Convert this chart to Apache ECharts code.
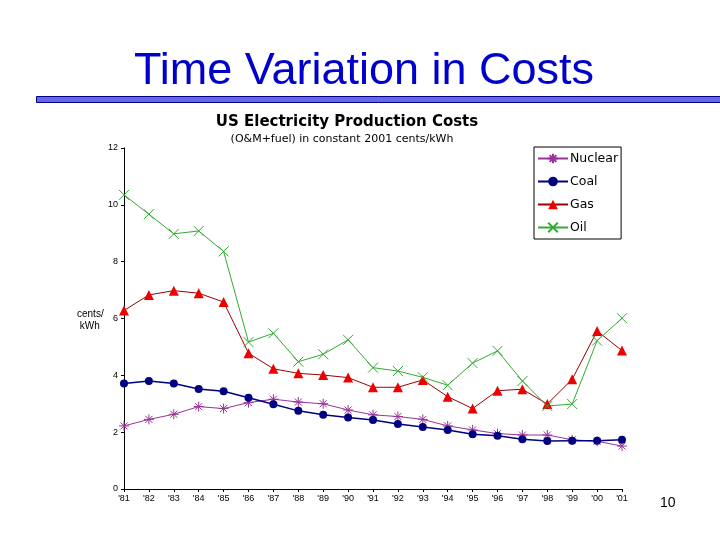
<!DOCTYPE html>
<html><head><meta charset="utf-8">
<script src="https://cdn.jsdelivr.net/npm/echarts@6/dist/echarts.min.js"></script>
<style>html,body{margin:0;padding:0;background:#fff}#c{width:720px;height:540px}</style>
</head><body><div id="c"></div>
<script>
const years = ["'81","'82","'83","'84","'85","'86","'87","'88","'89","'90","'91","'92","'93","'94","'95","'96","'97","'98","'99","'00","'01"];
const nuclear = [2.22,2.45,2.63,2.90,2.83,3.04,3.16,3.06,3.00,2.78,2.61,2.55,2.45,2.22,2.08,1.95,1.90,1.90,1.73,1.68,1.51];
const coal = [3.71,3.80,3.71,3.52,3.44,3.21,2.98,2.75,2.61,2.52,2.43,2.29,2.18,2.08,1.93,1.87,1.75,1.69,1.70,1.70,1.73];
const gas = [6.28,6.83,6.98,6.89,6.58,4.78,4.23,4.07,4.01,3.92,3.58,3.58,3.84,3.25,2.83,3.46,3.51,2.99,3.86,5.56,4.87];
const oil = [10.35,9.67,8.98,9.08,8.36,5.17,5.48,4.48,4.74,5.25,4.27,4.15,3.93,3.65,4.43,4.86,3.80,2.92,2.99,5.22,6.01];
const yTicks = [0,2,4,6,8,10,12];

const star = 'path://M0,-5L0,5M-5,0L5,0M-3.5,-3.5L3.5,3.5M-3.5,3.5L3.5,-3.5';
const cross = 'path://M-5,-5L5,5M-5,5L5,-5';

const chart = echarts.init(document.getElementById('c'));
chart.setOption({
  animation:false,
  backgroundColor:'#fff',
  title:[
    {text:'Time Variation in Costs',left:359,textAlign:'center',top:44,textStyle:{fontFamily:'Liberation Sans',fontSize:45,fontWeight:'normal',color:'#0000cc'}},
    {text:'US Electricity Production Costs',left:342,textAlign:'center',top:110,textStyle:{fontFamily:'DejaVu Sans',fontSize:15,fontWeight:'bold',color:'#000'}},
    {text:'(O&M+fuel) in constant 2001 cents/kWh',left:337,textAlign:'center',top:129,textStyle:{fontFamily:'DejaVu Sans',fontSize:11,fontWeight:'normal',color:'#000'}}
  ],
  graphic:[
    {type:'rect',shape:{x:36.5,y:96.5,width:700,height:6},style:{fill:'#6666ee',stroke:'#000080',lineWidth:1}},
    {type:'text',left:660,top:496,style:{text:'10',font:'14px Liberation Sans',fill:'#000'}},
    {type:'text',left:77,top:308,style:{text:'cents/\n kWh',font:'10px Liberation Sans',fill:'#000',lineHeight:12}}
  ],
  legend:{
    orient:'vertical',left:534,top:147,width:88,
    padding:[5,3,5,3],itemGap:10,itemWidth:30,itemHeight:12,
    borderColor:'#000',borderWidth:1,
    textStyle:{fontFamily:'DejaVu Sans',fontSize:12.5,color:'#000',padding:[0,0,0,-3]},
    data:['Nuclear','Coal','Gas','Oil']
  },
  grid:{left:124,right:98,top:148,bottom:51,containLabel:false},
  xAxis:{
    type:'category',data:years,boundaryGap:false,
    axisLine:{lineStyle:{color:'#000',width:1}},
    axisTick:{length:3,lineStyle:{color:'#000'}},
    axisLabel:{fontFamily:'Liberation Sans',fontSize:9,color:'#000',margin:5,interval:0},
    splitLine:{show:false}
  },
  yAxis:{
    type:'value',min:0,max:12,interval:2,
    axisLine:{show:true,lineStyle:{color:'#000'}},
    axisTick:{show:true,length:3,lineStyle:{color:'#000'}},
    axisLabel:{fontFamily:'Liberation Sans',fontSize:9,color:'#000',margin:6,
      formatter:v=>yTicks.includes(v)?String(v):''},
    splitLine:{show:false}
  },
  series:[
    {name:'Nuclear',type:'line',data:nuclear,symbol:star,symbolSize:10,
      lineStyle:{color:'#993399',width:1},
      itemStyle:{color:'#993399',borderColor:'#993399',borderWidth:1}},
    {name:'Coal',type:'line',data:coal,symbol:'circle',symbolSize:8,
      lineStyle:{color:'#000080',width:1.5},
      itemStyle:{color:'#000080'}},
    {name:'Gas',type:'line',data:gas,symbol:'triangle',symbolSize:10,
      lineStyle:{color:'#990000',width:1},
      itemStyle:{color:'#ee0000'}},
    {name:'Oil',type:'line',data:oil,symbol:cross,symbolSize:10,
      lineStyle:{color:'#33aa33',width:1},
      itemStyle:{color:'#33aa33',borderColor:'#33aa33',borderWidth:1}}
  ]
});
</script></body></html>
